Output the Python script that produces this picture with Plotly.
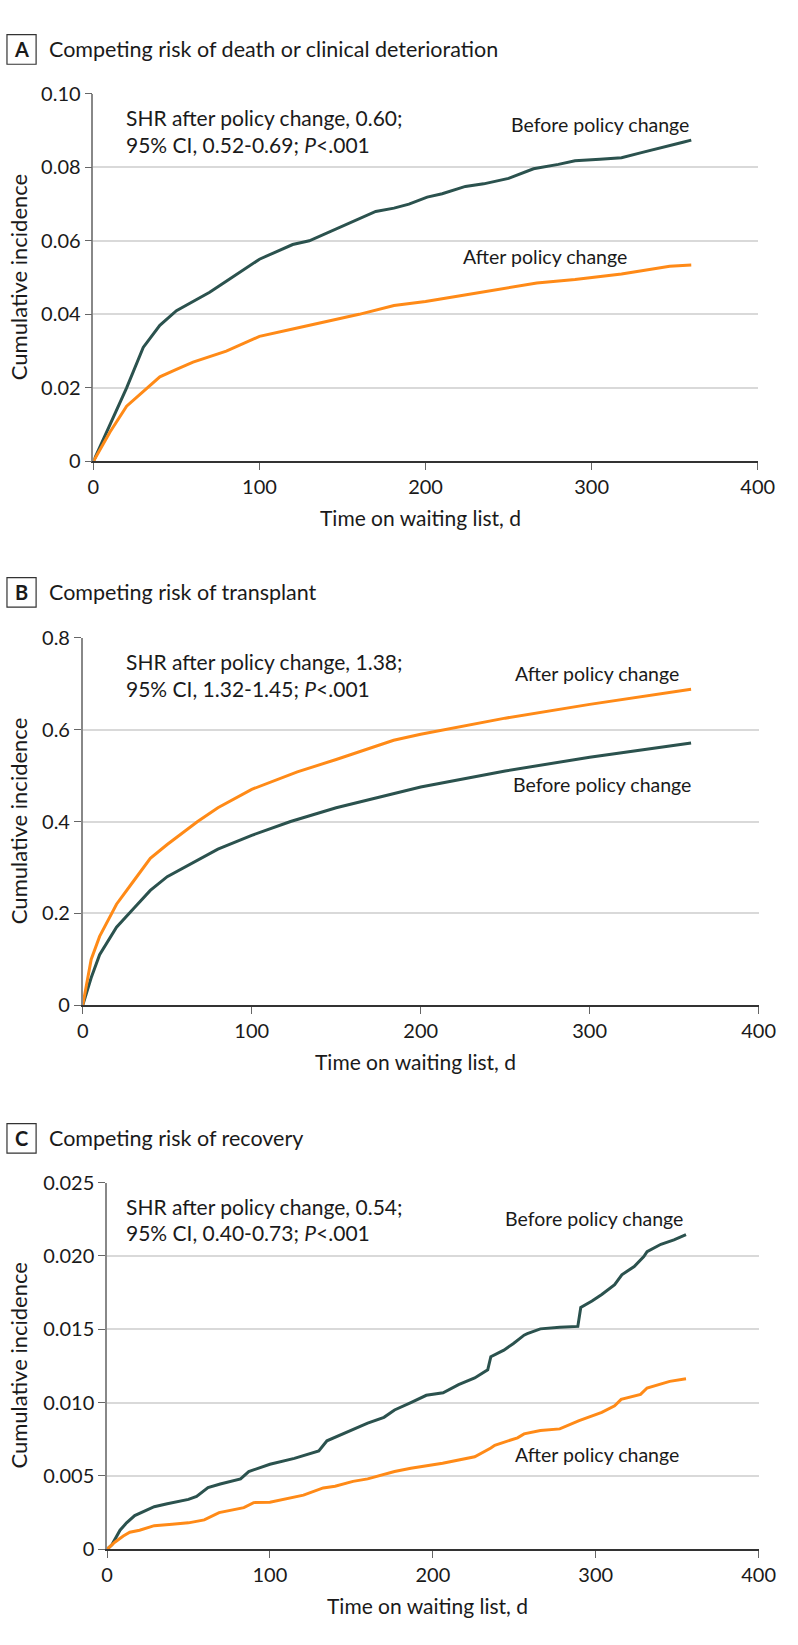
import plotly.graph_objects as go

W, H = 798, 1645
FONT = "Lato"
TEXT = "#1a1a1a"
DARK = "#2b524e"
ORANGE = "#ff8a17"

# ---------------- Data ----------------
# Panel A: death or clinical deterioration
a_before_t = [0, 5, 10, 20, 30, 40, 50, 60, 70, 80, 90, 100, 110, 120, 130, 140, 150, 160, 170, 181,
              190, 201, 210, 224, 235, 250, 265, 280, 290, 305, 318, 330, 347, 355, 360]
a_before_v = [0, 0.005, 0.010, 0.020, 0.031, 0.037, 0.041, 0.0435, 0.046, 0.049, 0.052, 0.055, 0.057, 0.059,
              0.060, 0.062, 0.064, 0.066, 0.068, 0.0689, 0.070, 0.0719, 0.0728, 0.0748, 0.0755, 0.077,
              0.0796, 0.0808, 0.0818, 0.0822, 0.0826, 0.084, 0.0858, 0.0868, 0.0874]
a_after_t = [0, 5, 10, 20, 30, 40, 50, 60, 80, 100, 120, 140, 160, 181, 200, 220, 240, 267, 290, 318, 347, 360]
a_after_v = [0, 0.004, 0.008, 0.015, 0.019, 0.023, 0.025, 0.027, 0.030, 0.034, 0.036, 0.038, 0.040,
             0.0424, 0.0435, 0.045, 0.0465, 0.0485, 0.0495, 0.051, 0.0531, 0.0534]

# Panel B: transplant
b_before_t = [0, 5, 10, 20, 30, 40, 50, 60, 80, 100, 123, 150, 184, 200, 250, 300, 360]
b_before_v = [0, 0.06, 0.11, 0.17, 0.21, 0.25, 0.28, 0.30, 0.34, 0.37, 0.40, 0.43, 0.461, 0.475, 0.51, 0.54, 0.571]
b_after_t = [0, 5, 10, 20, 30, 40, 50, 68, 80, 100, 127, 150, 184, 200, 250, 300, 360]
b_after_v = [0, 0.10, 0.15, 0.22, 0.27, 0.32, 0.35, 0.40, 0.43, 0.47, 0.508, 0.535, 0.577, 0.59, 0.625, 0.655, 0.688]

# Panel C: recovery
c_before_t = [0, 3, 8, 12, 17, 23, 29, 37, 44.5, 50, 55, 62, 69.5, 75, 82, 87, 100, 115, 130, 135, 150, 160,
              170, 176.5, 186.5, 196, 206.3, 215.8, 225.7, 233.7, 235.6, 243.6, 249.5, 256, 258, 266, 277.9,
              289, 290.8, 297.7, 303.7, 311.6, 316, 323.6, 329.5, 331.5, 340, 348, 355.4]
c_before_v = [0, 0.0003, 0.0013, 0.0018, 0.0023, 0.0026, 0.0029, 0.0031, 0.0033, 0.0034, 0.0036, 0.0042,
              0.00445, 0.0046, 0.0048, 0.0053, 0.0058, 0.0062, 0.0067, 0.0074, 0.0081, 0.0086, 0.009,
              0.0095, 0.0100, 0.0105, 0.01067, 0.01123, 0.01168, 0.01224, 0.01313, 0.01358, 0.01403,
              0.0146, 0.0147, 0.01503, 0.01514, 0.0152, 0.01649, 0.01693, 0.01738, 0.01805, 0.01872,
              0.01928, 0.01996, 0.02029, 0.0208, 0.0211, 0.02146]
c_after_t = [0, 5, 10, 14, 20, 29, 40, 50, 59.7, 68.8, 84, 90, 100, 120.6, 132.7, 140, 151, 160, 176.5,
             186.5, 206, 225.7, 235.6, 238, 252, 256, 266, 277.9, 289.8, 295.8, 303.7, 311.6, 315.6, 327.5,
             331.5, 345.4, 355.4]
c_after_v = [0, 0.0005, 0.0009, 0.00116, 0.0013, 0.00161, 0.0017, 0.0018, 0.0020, 0.0025, 0.00284, 0.00318,
             0.0032, 0.00369, 0.00418, 0.0043, 0.00463, 0.0048, 0.0053, 0.00552, 0.00586, 0.00631, 0.0069,
             0.00709, 0.0076, 0.00787, 0.0081, 0.00821, 0.00877, 0.00899, 0.00933, 0.00978, 0.01022,
             0.01056, 0.011, 0.01145, 0.01163]

x_ticks = [0, 100, 200, 300, 400]
a_ticks = [0, 0.02, 0.04, 0.06, 0.08, 0.10]
a_tick_text = ["0", "0.02", "0.04", "0.06", "0.08", "0.10"]
b_ticks = [0, 0.2, 0.4, 0.6, 0.8]
b_tick_text = ["0", "0.2", "0.4", "0.6", "0.8"]
c_ticks = [0, 0.005, 0.010, 0.015, 0.020, 0.025]
c_tick_text = ["0", "0.005", "0.010", "0.015", "0.020", "0.025"]

panel_letters = ["A", "B", "C"]
panel_titles = ["Competing risk of death or clinical deterioration",
                "Competing risk of transplant",
                "Competing risk of recovery"]
shr_line1 = ["SHR after policy change, 0.60;", "SHR after policy change, 1.38;", "SHR after policy change, 0.54;"]
shr_line2 = ["95% CI, 0.52-0.69; <i>P</i><.001", "95% CI, 1.32-1.45; <i>P</i><.001", "95% CI, 0.40-0.73; <i>P</i><.001"]
x_title = "Time on waiting list, d"
y_title = "Cumulative incidence"

# ---------------- Layout geometry (pixels) ----------------
def px(x):
    return x / W

def py(y):
    return 1 - y / H

panels = [
    dict(x0=90, x1=774, y0=82, y1=455, yr=[0, 0.1], ticks=a_ticks, tt=a_tick_text, title_y=37,
         bt=a_before_t, bv=a_before_v, at=a_after_t, av=a_after_v,
         before_lab=(705, 113), after_lab=(641, 247)),
    dict(x0=79, x1=775, y0=634, y1=1007, yr=[0, 0.8], ticks=b_ticks, tt=b_tick_text, title_y=588,
         bt=b_before_t, bv=b_before_v, at=b_after_t, av=b_after_v,
         before_lab=(707, 783), after_lab=(695, 670)),
    dict(x0=104, x1=775, y0=1187, y1=1559, yr=[0, 0.025], ticks=c_ticks, tt=c_tick_text, title_y=1142,
         bt=c_before_t, bv=c_before_v, at=c_after_t, av=c_after_v,
         before_lab=(699, 1223), after_lab=(695, 1463)),
]

fig = go.Figure()
layout = dict(width=W, height=H, margin=dict(l=0, r=0, t=0, b=0), paper_bgcolor="white",
              plot_bgcolor="white", showlegend=False, font=dict(family=FONT, color=TEXT, size=20))
annotations = []
shapes = []

for i, p in enumerate(panels):
    n = "" if i == 0 else str(i + 1)
    xa, ya = "x" + n, "y" + n
    fig.add_trace(go.Scatter(x=p["bt"], y=p["bv"], mode="lines", line=dict(color=DARK, width=3),
                             xaxis=xa, yaxis=ya, name="Before policy change"))
    fig.add_trace(go.Scatter(x=p["at"], y=p["av"], mode="lines", line=dict(color=ORANGE, width=3),
                             xaxis=xa, yaxis=ya, name="After policy change"))
    layout["xaxis" + n] = dict(domain=[px(p["x0"]), px(p["x1"])], range=[0, 400], anchor=ya,
                               tickvals=x_ticks, ticks="outside", ticklen=7, tickcolor="#666",
                               showline=True, linecolor="#333", linewidth=1.5, showgrid=False,
                               zeroline=False, tickfont=dict(size=20, color=TEXT, family=FONT))
    layout["yaxis" + n] = dict(domain=[py(p["y1"]), py(p["y0"])], range=p["yr"], anchor=xa,
                               tickvals=p["ticks"], ticktext=p["tt"], ticks="outside", ticklen=7,
                               tickcolor="#666", showline=True, linecolor="#888", linewidth=1.5,
                               showgrid=True, gridcolor="#d9d9d9", gridwidth=1.5, zeroline=False,
                               tickfont=dict(size=20, color=TEXT, family=FONT))
    # panel letter box
    ty = p["title_y"]
    shapes.append(dict(type="rect", xref="paper", yref="paper", x0=px(1), x1=px(31),
                       y0=py(ty + 15), y1=py(ty - 15), line=dict(color="#333", width=1.2)))
    annotations.append(dict(x=px(16), y=py(ty), xref="paper", yref="paper", text="<b>%s</b>" % panel_letters[i],
                            showarrow=False, xanchor="center", yanchor="middle", font=dict(size=20)))
    annotations.append(dict(x=px(42), y=py(ty), xref="paper", yref="paper", text=panel_titles[i],
                            showarrow=False, xanchor="left", yanchor="middle", font=dict(size=21.5)))
    # SHR text
    base = p["y0"]
    annotations.append(dict(x=px(121), y=py(base + 24), xref="paper", yref="paper", text=shr_line1[i],
                            showarrow=False, xanchor="left", yanchor="middle", font=dict(size=21)))
    annotations.append(dict(x=px(121), y=py(base + 51), xref="paper", yref="paper", text=shr_line2[i],
                            showarrow=False, xanchor="left", yanchor="middle", font=dict(size=21)))
    # series labels
    bx, by = p["before_lab"]
    ax_, ay_ = p["after_lab"]
    annotations.append(dict(x=px(bx), y=py(by), xref="paper", yref="paper", text="Before policy change",
                            showarrow=False, xanchor="right", yanchor="middle", font=dict(size=19.5)))
    annotations.append(dict(x=px(ax_), y=py(ay_), xref="paper", yref="paper", text="After policy change",
                            showarrow=False, xanchor="right", yanchor="middle", font=dict(size=19.5)))
    # axis titles
    annotations.append(dict(x=px((p["x0"] + p["x1"]) / 2 - 5), y=py(p["y1"] + 57), xref="paper", yref="paper",
                            text=x_title, showarrow=False, xanchor="center", yanchor="middle",
                            font=dict(size=21)))
    annotations.append(dict(x=px(13), y=py((p["y0"] + p["y1"]) / 2), xref="paper", yref="paper",
                            text=y_title, showarrow=False, textangle=-90, xanchor="center",
                            yanchor="middle", font=dict(size=22)))

layout["annotations"] = annotations
layout["shapes"] = shapes
fig.update_layout(**layout)
fig.write_html("out.html", config={"displayModeBar": False},
               post_script="document.body.style.margin='0';")
